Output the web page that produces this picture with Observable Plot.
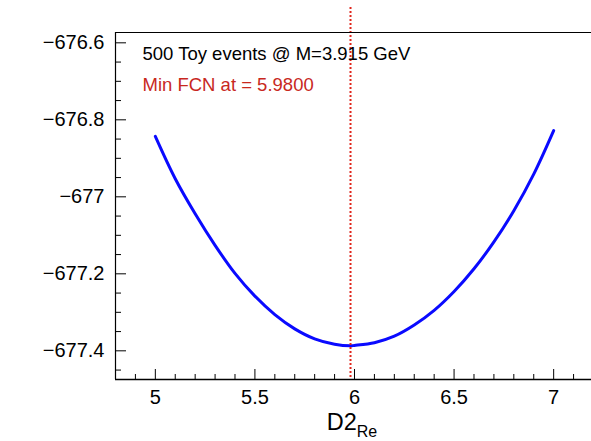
<!DOCTYPE html>
<html>
<head>
<meta charset="utf-8">
<script src="https://cdn.jsdelivr.net/npm/d3@7"></script>
<script src="https://cdn.jsdelivr.net/npm/@observablehq/plot@0.6"></script>
<style>
  html, body { margin: 0; padding: 0; background: #fff; }
  #chart svg { display: block; }
</style>
</head>
<body>
<div id="chart"></div>
<script>
// ---- data ----
const scanX = [5.0, 5.1, 5.2, 5.3, 5.4, 5.5, 5.6, 5.7, 5.8, 5.9, 5.98, 6.0,
               6.1, 6.2, 6.3, 6.4, 6.5, 6.6, 6.7, 6.8, 6.9, 7.0];
const scanFCN = [-676.843, -676.953, -677.044, -677.126, -677.199, -677.258,
                 -677.306, -677.343, -677.369, -677.383, -677.387, -677.386,
                 -677.379, -677.362, -677.333, -677.295, -677.246, -677.187,
                 -677.117, -677.036, -676.941, -676.828];
const minFCNx = [5.98];
const xDomain = [4.8, 7.19];
const yDomain = [-677.4745, -676.5732];
const xMajorTicks = [5, 5.5, 6, 6.5, 7];
const xTickLabels = ["5", "5.5", "6", "6.5", "7"];
const yMajorTicks = [-676.6, -676.8, -677, -677.2, -677.4];
const yTickLabels = ["\u2212676.6", "\u2212676.8", "\u2212677", "\u2212677.2", "\u2212677.4"];
const infoText = ["500 Toy events @ M=3.915 GeV"];
const minText = ["Min FCN at = 5.9800"];
const xTitleMain = "D2";
const xTitleSub = "Re";

// derived tick sets
const xMinorTicks = d3.range(48, 72).map(v => v / 10).filter(v => !xMajorTicks.some(m => Math.abs(m - v) < 1e-9));
const yMinorTicks = d3.range(-677450, -676550, 50).map(v => v / 1000).filter(v => !yMajorTicks.some(m => Math.abs(m - v) < 1e-9));
const scan = scanX.map((x, i) => ({x, y: scanFCN[i]}));

const W = 591, H = 441;
const mL = 115, mT = 32, mB = 62, mR = 0;
const plotW = W - mL - mR, plotH = H - mT - mB;

const chart = Plot.plot({
  width: W, height: H,
  marginLeft: mL, marginTop: mT, marginBottom: mB, marginRight: mR,
  style: {fontFamily: "'Liberation Sans', Arial, Helvetica, sans-serif", fontSize: "20px", background: "#fff", color: "#000"},
  x: {domain: xDomain},
  y: {domain: yDomain},
  marks: [
    // curve
    Plot.line(scan, {x: "x", y: "y", stroke: "#0a0aff", strokeWidth: 3, curve: "catmull-rom"}),
    // min line
    Plot.ruleX(minFCNx, {x: d => d, stroke: "#e0261c", strokeWidth: 2, strokeDasharray: "2,2", insetTop: -25}),
    // frame lines
    Plot.ruleX([xDomain[0]], {x: d => d, stroke: "#000", strokeWidth: 1.2}),
    Plot.ruleY([yDomain[0]], {y: d => d, stroke: "#000", strokeWidth: 1.5}),
    Plot.ruleY([yDomain[1]], {y: d => d, stroke: "#000", strokeWidth: 1.2}),
    // inward ticks
    Plot.ruleX(xMajorTicks, {x: d => d, stroke: "#000", insetTop: plotH - 10}),
    Plot.ruleX(xMinorTicks, {x: d => d, stroke: "#000", insetTop: plotH - 5}),
    Plot.ruleY(yMajorTicks, {y: d => d, stroke: "#000", insetRight: plotW - 11}),
    Plot.ruleY(yMinorTicks, {y: d => d, stroke: "#000", insetRight: plotW - 6}),
    // axis labels
    Plot.axisX(xMajorTicks, {tickSize: 0, tickPadding: 10.5, label: null, fontSize: 20,
      tickFormat: d => xTickLabels[xMajorTicks.indexOf(d)]}),
    Plot.axisY(yMajorTicks, {tickSize: 0, tickPadding: 11, label: null, fontSize: 20,
      tickFormat: d => yTickLabels[yMajorTicks.indexOf(d)]}),
    // annotations
    Plot.text(infoText, {frameAnchor: "top-left", text: d => d, dx: 27, dy: 27,
      textAnchor: "start", lineAnchor: "bottom", fontSize: 18.5, fill: "#000"}),
    Plot.text(minText, {frameAnchor: "top-left", text: d => d, dx: 27, dy: 58,
      textAnchor: "start", lineAnchor: "bottom", fontSize: 18.5, fill: "#c8281e"})
  ]
});

// x-axis title with subscript
const svg = d3.select(chart);
const xs = chart.scale("x");
const tx = (xs.range[0] + xs.range[1]) / 2 - 1;
const title = svg.append("text")
  .attr("x", tx).attr("y", 430)
  .attr("text-anchor", "middle")
  .attr("font-family", "'Liberation Sans', Arial, Helvetica, sans-serif")
  .attr("fill", "#000");
title.append("tspan").attr("font-size", 23.5).text(xTitleMain);
title.append("tspan").attr("font-size", 16).attr("dy", 7).text(xTitleSub);

document.getElementById("chart").appendChild(chart);
</script>
</body>
</html>
